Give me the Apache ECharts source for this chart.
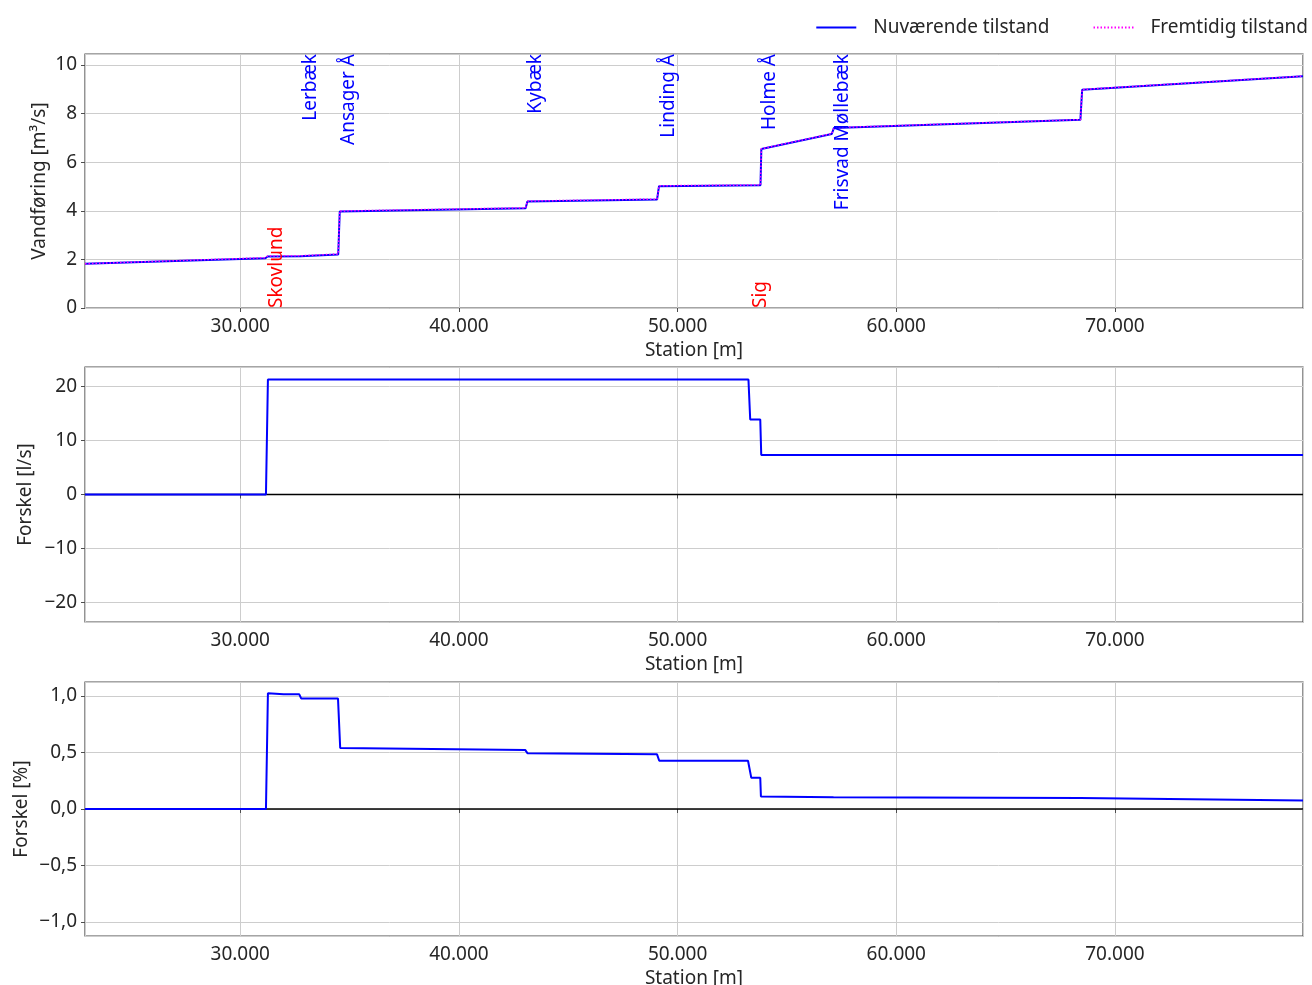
<!DOCTYPE html>
<html>
<head>
<meta charset="utf-8">
<script src="https://cdn.jsdelivr.net/npm/echarts@6/dist/echarts.min.js"></script>
<style>
  html, body { margin: 0; padding: 0; background: #ffffff; }
  #chart { width: 1312px; height: 985px; }
</style>
</head>
<body>
<div id="chart"></div>
<script>
// Vandføring langs vandløbet [m³/s], station i meter
const flowStation = [22900, 31150, 31250, 32750, 32800, 34480, 34550, 43050, 43130, 49060, 49150, 53790, 53830, 57050, 57150, 68420, 68500, 78600];
const flowNow     = [1.82, 2.05, 2.12, 2.13, 2.20, 2.20, 3.97, 4.10, 4.38, 4.46, 5.01, 5.05, 6.54, 7.16, 7.41, 7.74, 8.98, 9.53];
const flowFuture  = [1.82, 2.07, 2.14, 2.15, 2.22, 2.22, 3.99, 4.12, 4.40, 4.48, 5.03, 5.06, 6.55, 7.17, 7.42, 7.75, 8.99, 9.54];

// Forskel i vandføring [l/s]
const diffStation = [22900, 31175, 31265, 53240, 53320, 53780, 53825, 78600];
const diffLs      = [0, 0, 21.3, 21.3, 13.9, 13.9, 7.3, 7.3];

// Forskel i vandføring [%]
const pctStation = [22900, 31175, 31265, 31980, 32700, 32790, 34470, 34570, 43030, 43140, 49060, 49160, 53220, 53370, 53780, 53810, 57130, 57160, 68410, 68500, 78600];
const pctDiff    = [0, 0, 1.024, 1.015, 1.015, 0.977, 0.977, 0.54, 0.523, 0.493, 0.484, 0.427, 0.427, 0.276, 0.276, 0.11, 0.104, 0.099, 0.098, 0.081, 0.075];

// Tilløb (blå) og udledninger (røde)
const inflowNames    = ['Lerbæk', 'Ansager Å', 'Kybæk', 'Linding Å', 'Holme Å', 'Frisvad Møllebæk'];
const inflowStations = [32780, 34530, 43080, 49140, 53790, 57110];
const outletNames    = ['Skovlund', 'Sig'];
const outletStations = [31220, 53360];

const seriesNames = ['Nuværende tilstand', 'Fremtidig tilstand'];

const X_MIN = 22900, X_MAX = 78600;
const FONT = '"Noto Sans", "Open Sans", sans-serif';
const FS = 19;
const TXT = '#262626';
const FRAME = '#4d4d4d';

const zip = (xs, ys) => xs.map((x, i) => [x, ys[i]]);
const thousands = v => String(Math.round(v)).replace(/\B(?=(\d{3})+(?!\d))/g, '.');
const signed = (v, dec) => (dec ? v.toFixed(dec).replace('.', ',') : String(v)).replace('-', '\u2212');

const grids = [
  { top: 54, height: 254 },
  { top: 367, height: 255 },
  { top: 682, height: 254 }
].map(g => Object.assign({
  left: 85, right: 9, show: true, borderColor: FRAME, borderWidth: 1.2,
  backgroundColor: 'transparent', outerBoundsMode: 'none', containLabel: false
}, g));

const tick = { show: true, length: 4, lineStyle: { color: FRAME, width: 1 } };
const grid = { show: true, lineStyle: { color: '#cdcdcd', width: 1 } };

const xAxes = [0, 1, 2].map(i => ({
  type: 'value', gridIndex: i, min: X_MIN, max: X_MAX, splitNumber: 5,
  name: 'Station [m]', nameLocation: 'middle', nameGap: 33, nameMoveOverlap: false,
  nameTextStyle: { fontFamily: FONT, fontSize: FS, color: TXT },
  axisLine: { show: false }, axisTick: tick,
  axisLabel: { fontFamily: FONT, fontSize: FS, color: TXT, margin: 9, showMinLabel: false, showMaxLabel: false, formatter: thousands },
  splitLine: grid
}));

const yCommon = {
  type: 'value', nameLocation: 'middle', nameMoveOverlap: false,
  nameTextStyle: { fontFamily: FONT, fontSize: FS, color: TXT },
  axisLine: { show: false }, axisTick: tick,
  splitLine: grid
};
const yAxes = [
  Object.assign({}, yCommon, {
    gridIndex: 0, min: 0, max: 10.45, splitNumber: 5, name: 'Vandføring [m³/s]', nameGap: 36,
    axisLabel: { fontFamily: FONT, fontSize: FS, color: TXT, margin: 8, showMaxLabel: false, formatter: v => signed(v, 0) }
  }),
  Object.assign({}, yCommon, {
    gridIndex: 1, min: -23.6, max: 23.6, splitNumber: 5, name: 'Forskel [l/s]', nameGap: 50,
    axisLabel: { fontFamily: FONT, fontSize: FS, color: TXT, margin: 8, showMinLabel: false, showMaxLabel: false, formatter: v => signed(v, 0) }
  }),
  Object.assign({}, yCommon, {
    gridIndex: 2, min: -1.124, max: 1.124, splitNumber: 5, name: 'Forskel [%]', nameGap: 54,
    axisLabel: { fontFamily: FONT, fontSize: FS, color: TXT, margin: 8, showMinLabel: false, showMaxLabel: false, formatter: v => signed(v, 1) }
  })
];

// Lodrette navne på tilløb/udledninger i øverste panel
function nameSeries(names, stations, yVal, color, align) {
  return {
    type: 'custom', xAxisIndex: 0, yAxisIndex: 0, clip: false, silent: true, z: 10,
    data: stations.map(s => [s, yVal]),
    renderItem(params, api) {
      const p = api.coord([api.value(0), api.value(1)]);
      return {
        type: 'text', x: p[0], y: p[1], rotation: Math.PI / 2,
        style: { text: names[params.dataIndex], fill: color, font: FS + 'px ' + FONT, align: align, verticalAlign: 'top' }
      };
    }
  };
}

function zeroLine(i) {
  return {
    type: 'line', xAxisIndex: i, yAxisIndex: i, data: [[X_MIN, 0], [X_MAX, 0]],
    symbol: 'none', silent: true, z: 2, lineStyle: { color: '#000000', width: 1.3 }
  };
}

const option = {
  animation: false,
  backgroundColor: '#ffffff',
  grid: grids,
  xAxis: xAxes,
  yAxis: yAxes,
  legend: {
    data: seriesNames, top: 13, right: -1, itemWidth: 40, itemHeight: 12, itemGap: 43,
    itemStyle: { color: 'transparent', borderColor: 'transparent', borderWidth: 0 },
    textStyle: { fontFamily: FONT, fontSize: FS, color: TXT, padding: [0, 0, 0, 12] }
  },
  series: [
    {
      name: seriesNames[0], type: 'line', xAxisIndex: 0, yAxisIndex: 0, data: zip(flowStation, flowNow),
      symbol: 'none', z: 3, lineStyle: { color: '#0000ff', width: 2 }, itemStyle: { color: '#0000ff' }
    },
    {
      name: seriesNames[1], type: 'line', xAxisIndex: 0, yAxisIndex: 0, data: zip(flowStation, flowFuture),
      symbol: 'none', z: 4, lineStyle: { color: '#ff00ff', width: 1.5, type: [1.5, 2] }, itemStyle: { color: '#ff00ff' }
    },
    nameSeries(inflowNames, inflowStations, 10.45, '#0000ff', 'right'),
    nameSeries(outletNames, outletStations, 0, '#ff0000', 'left'),
    zeroLine(1),
    {
      type: 'line', xAxisIndex: 1, yAxisIndex: 1, data: zip(diffStation, diffLs),
      symbol: 'none', z: 3, lineStyle: { color: '#0000ff', width: 2 }
    },
    zeroLine(2),
    {
      type: 'line', xAxisIndex: 2, yAxisIndex: 2, data: zip(pctStation, pctDiff),
      symbol: 'none', z: 3, lineStyle: { color: '#0000ff', width: 2 }
    }
  ]
};

const chart = echarts.init(document.getElementById('chart'), null, { renderer: 'canvas' });
chart.setOption(option);
</script>
</body>
</html>
